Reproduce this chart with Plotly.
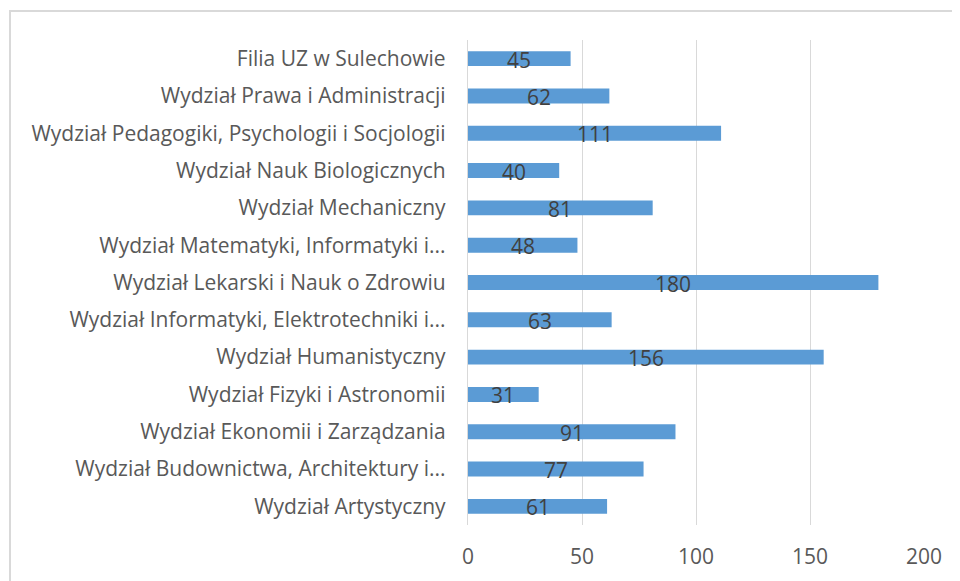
import plotly.graph_objects as go

categories = [
    "Wydział Artystyczny",
    "Wydział Budownictwa, Architektury i...",
    "Wydział Ekonomii i Zarządzania",
    "Wydział Fizyki i Astronomii",
    "Wydział Humanistyczny",
    "Wydział Informatyki, Elektrotechniki i...",
    "Wydział Lekarski i Nauk o Zdrowiu",
    "Wydział Matematyki, Informatyki i...",
    "Wydział Mechaniczny",
    "Wydział Nauk Biologicznych",
    "Wydział Pedagogiki, Psychologii i Socjologii",
    "Wydział Prawa i Administracji",
    "Filia UZ w Sulechowie",
]
values = [61, 77, 91, 31, 156, 63, 180, 48, 81, 40, 111, 62, 45]
x_ticks = [0, 50, 100, 150, 200]

FONT = "Open Sans"

fig = go.Figure()
fig.add_trace(go.Bar(
    x=values, y=categories, orientation="h",
    marker=dict(color="#5B9BD5", line=dict(width=0)),
    hoverinfo="x+y",
))

for c, v in zip(categories, values):
    fig.add_annotation(
        x=v / 2, y=c, text=str(v), showarrow=False,
        xref="x", yref="y", yshift=-1,
        font=dict(family=FONT, size=21, color="#404040"),
    )

# the page body adds an 8px offset; margins compensate for it
L, R, T, B = 460, 44, 32, 64
pw, ph = 960 - L - R, 581 - T - B

fig.update_layout(
    width=960, height=581,
    margin=dict(l=L, r=R, t=T, b=B),
    paper_bgcolor="white", plot_bgcolor="white",
    bargap=0.6,
    showlegend=False,
    font=dict(family=FONT, size=21, color="#595959"),
    xaxis=dict(
        range=[0, 200], tickvals=x_ticks, showgrid=True,
        gridcolor="#D9D9D9", gridwidth=1.3, zeroline=False,
        showline=False, ticks="", ticklabelstandoff=17,
        tickfont=dict(family=FONT, size=21, color="#595959"),
    ),
    yaxis=dict(
        categoryorder="array", categoryarray=categories,
        showgrid=False, zeroline=False, ticks="",
        showline=True, linecolor="#D9D9D9", linewidth=1.3,
        ticklabelstandoff=17,
        tickfont=dict(family=FONT, size=21, color="#595959"),
    ),
    shapes=[dict(
        type="rect", xref="paper", yref="paper",
        x0=(2 - L) / pw, x1=(1000 - L) / pw,
        y0=-(B + 40) / ph, y1=(ph + T - 3) / ph,
        line=dict(color="#D9D9D9", width=2), fillcolor="rgba(0,0,0,0)",
        layer="below",
    )],
)

fig.write_html("out.html")
